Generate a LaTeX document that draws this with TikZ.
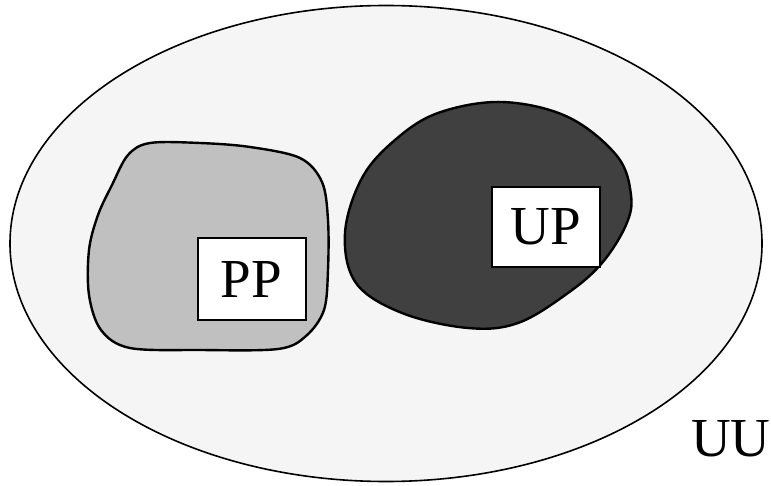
\documentclass[tikz,border=0pt]{standalone}
\usepackage{fontspec}
\setmainfont{Liberation Serif}
\begin{document}
\begin{tikzpicture}[x=1pt,y=-1pt,
  outline/.style={draw=black,line width=2.4pt},
  label/.style={font=\fontsize{55}{55}\selectfont,inner sep=0pt},
  tagbox/.style={draw=black,line width=2pt,fill=white,inner sep=0pt}]
\useasboundingbox (0,0) rectangle (771,486);
% universe
\draw[draw=black,line width=1.6pt,fill={rgb,255:red,245;green,245;blue,245}] (386,243.5) ellipse [x radius=376, y radius=238];
% light region
\draw[outline,fill={rgb,255:red,192;green,192;blue,192}] plot[smooth cycle,tension=0.55] coordinates {
  (150,143) (200,143) (250,147) (300,158) (322,182) (328,220) (328,270)
  (324,310) (306,336) (278,349) (200,350) (130,348) (101,330) (89,295) (89,250)
  (98,215) (112,185) (128,155)};
% dark region
\draw[outline,fill={rgb,255:red,64;green,64;blue,64}] plot[smooth cycle,tension=0.6] coordinates {
  (438,113) (502,102) (568,117) (617,156) (631,195) (626,225) (602,263)
  (568,293) (518,323) (468,328) (402,313) (356,283) (345,233) (362,178)
  (395,140)};
\node[tagbox,minimum width=108pt,minimum height=82pt] (pp) at (251.5,279.5) {};
\node[label] at (pp.center) {PP};
\node[tagbox,minimum width=108pt,minimum height=80pt] (up) at (546,227) {};
\node[label] at (up.center) {UP};
\node[label] (uu) at (731,439) {UU};
\end{tikzpicture}
\end{document}
